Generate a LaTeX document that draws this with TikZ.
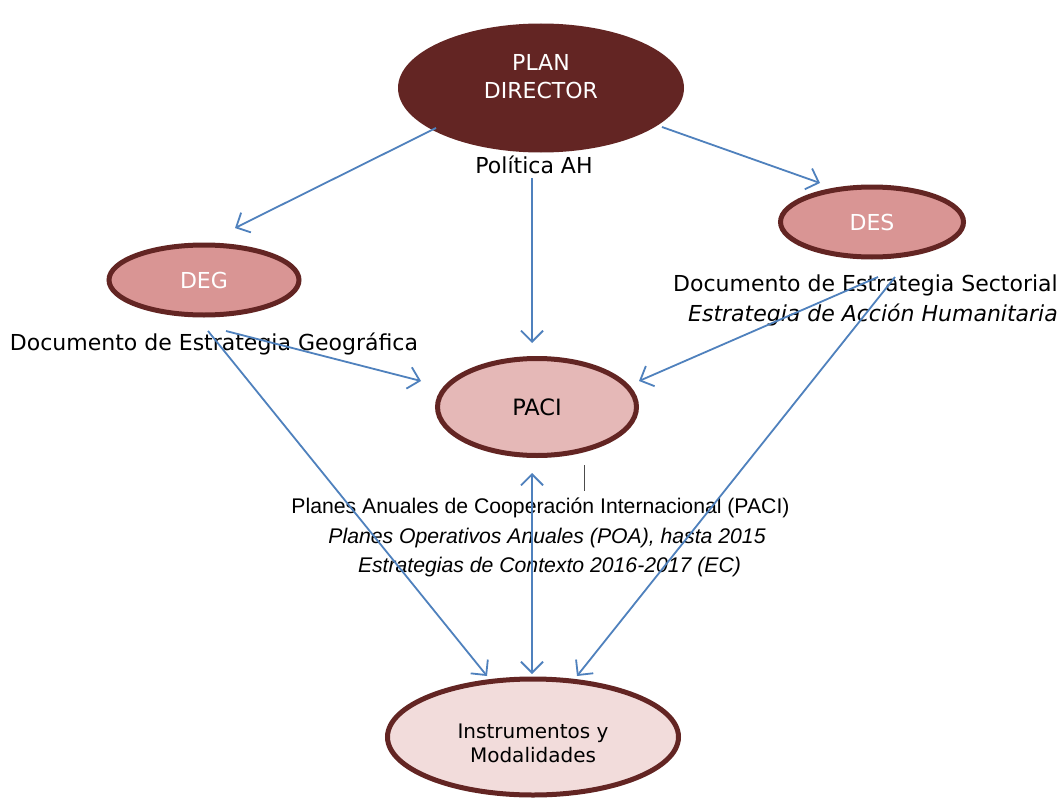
\documentclass[tikz,border=0pt]{standalone}
\usepackage{fontspec}
\setmainfont{DejaVu Sans}
\newfontfamily\helv{Liberation Sans}
\usetikzlibrary{shapes.geometric,arrows.meta}
\definecolor{maroon}{HTML}{632523}
\definecolor{rosemid}{HTML}{D99594}
\definecolor{rosepaci}{HTML}{E5B8B7}
\definecolor{roselight}{HTML}{F2DCDB}
\definecolor{arrowblue}{HTML}{4F81BD}
\begin{document}
\begin{tikzpicture}[x=1pt,y=-1pt,
  ell/.style={ellipse, inner sep=0pt, align=center, draw=maroon, line width=5pt},
  lbl/.style={inner sep=0pt, align=center, font=\fontsize{22}{26}\selectfont},
  captext/.style={inner sep=0pt, font=\helv\fontsize{21.2}{24}\selectfont},
  conn/.style={draw=arrowblue, line width=1.8pt, -{Straight Barb[length=11pt,width=22pt]}},
  dconn/.style={draw=arrowblue, line width=1.8pt, {Straight Barb[length=11pt,width=22pt]}-{Straight Barb[length=11pt,width=22pt]}}
]
\useasboundingbox (0,0) rectangle (1063,800);
\fill[white] (0,0) rectangle (1063,800);

% nodes
\node[ellipse, inner sep=0pt, align=center, fill=maroon, draw=none,
      minimum width=286pt, minimum height=129pt, text=white,
      font=\fontsize{22}{28}\selectfont] (pd) at (541,88) {\raisebox{3.5pt}[0pt][0pt]{\begin{tabular}{@{}c@{}}PLAN\\DIRECTOR\end{tabular}}};
\node[ell, fill=rosemid, minimum width=190pt, minimum height=70pt, text=white,
      font=\fontsize{22}{26}\selectfont] (deg) at (204,280) {DEG};
\node[ell, fill=rosemid, minimum width=183pt, minimum height=70pt, text=white,
      font=\fontsize{22}{26}\selectfont] (des) at (872,222) {DES};
\node[ell, fill=rosepaci, minimum width=199pt, minimum height=97pt,
      font=\fontsize{22.5}{26}\selectfont] (paci) at (537,407) {PACI};
\node[ell, fill=roselight, minimum width=291pt, minimum height=116pt,
      font=\fontsize{20}{24}\selectfont] (inst) at (533,737) {\raisebox{-14pt}[0pt][0pt]{\begin{tabular}{@{}c@{}}Instrumentos y\\Modalidades\end{tabular}}};

% labels
\node[lbl] (pol) at (534,165) {Política AH};
\node[lbl] (degt) at (214,344) {Documento de Estrategia Geográfica};
\node[lbl, anchor=east] (dest1) at (1058,285) {Documento de Estrategia Sectorial};
\node[lbl, anchor=east] (dest2) at (1058,315) {\itshape Estrategia de Acción Humanitaria};
\node[captext] (pc1) at (540.5,508) {Planes Anuales de Cooperación Internacional (PACI)};
\node[captext] (pc2) at (547,538) {\itshape Planes Operativos Anuales (POA), hasta 2015};
\node[captext] (pc3) at (549.5,567) {\itshape Estrategias de Contexto 2016-2017 (EC)};

% small mark
\coordinate (m1) at (584,465);
\coordinate (m2) at (584,491);
\draw[black!70, line width=1pt] (m1) -- (m2);

% connector end points
\coordinate (a1s) at (436,128); \coordinate (a1e) at (235,228);
\coordinate (a2s) at (662,127); \coordinate (a2e) at (820,183);
\coordinate (a3s) at (532,178); \coordinate (a3e) at (532,343);
\coordinate (a4s) at (226,331); \coordinate (a4e) at (421,381);
\coordinate (a5s) at (878,277); \coordinate (a5e) at (639,381);
\coordinate (a6s) at (208,331); \coordinate (a6e) at (487,676);
\coordinate (a7s) at (895,277); \coordinate (a7e) at (577,676);
\coordinate (a8s) at (532,473); \coordinate (a8e) at (532,674);

\draw[conn] (a1s) -- (a1e);
\draw[conn] (a2s) -- (a2e);
\draw[conn] (a3s) -- (a3e);
\draw[conn] (a4s) -- (a4e);
\draw[conn] (a5s) -- (a5e);
\draw[conn] (a6s) -- (a6e);
\draw[conn] (a7s) -- (a7e);
\draw[dconn] (a8s) -- (a8e);
\end{tikzpicture}
\end{document}
